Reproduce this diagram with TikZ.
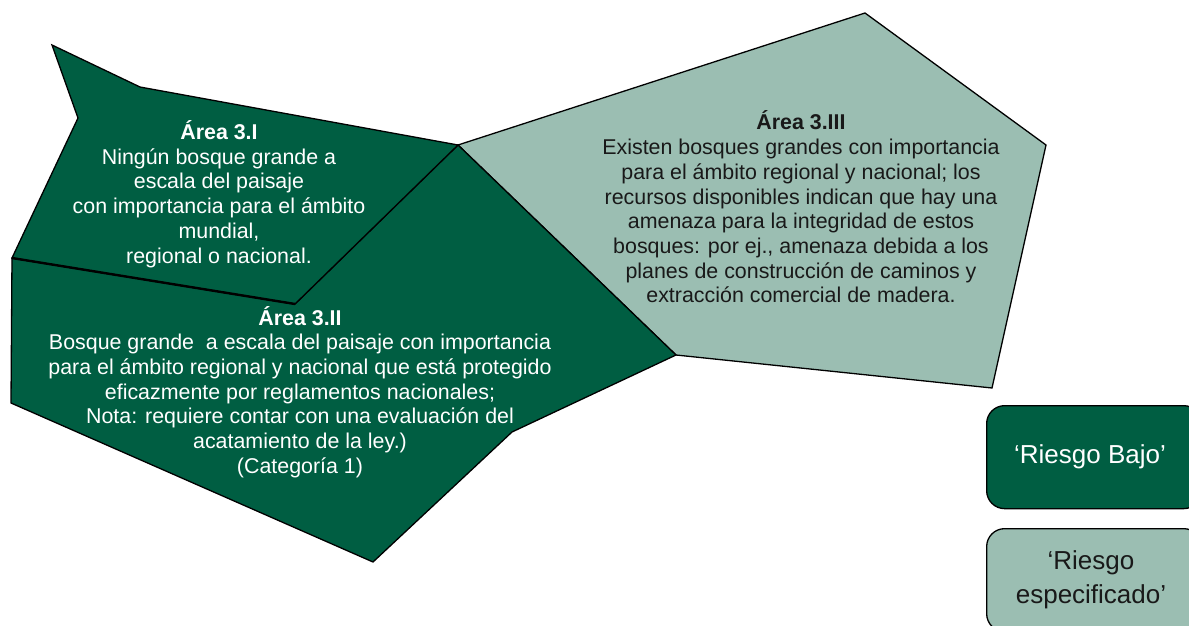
\documentclass[tikz,border=0pt]{standalone}
\usepackage{fontspec}
\setmainfont{Liberation Sans}
\definecolor{dkgreen}{RGB}{0,94,66}
\definecolor{ltgreen}{RGB}{155,190,178}
\tikzset{
  area/.style={draw=black, line width=1.3pt, line join=miter},
  txt/.style={align=center, inner sep=0pt, font=\fontsize{21.4}{24.7}\selectfont},
  legtxt/.style={align=center, inner sep=0pt, font=\fontsize{26}{34}\selectfont},
  legbox/.style={draw=black, line width=1.3pt, rounded corners=18pt, minimum width=215pt, minimum height=103pt, inner sep=0pt}
}
\begin{document}
\begin{tikzpicture}[x=1pt,y=-1pt]
\useasboundingbox (0,0) rectangle (1189,626);
\clip (0,0) rectangle (1189,626);
\fill[white] (0,0) rectangle (1189,626);
% Area 3.III
\filldraw[area, fill=ltgreen] (458,145) -- (865,13) -- (1046,145) -- (992,388) -- (676,355) -- cycle;
% Area 3.II
\filldraw[area, fill=dkgreen] (12,258) -- (295,304) -- (458,145) -- (676,355) -- (512,432) -- (373,562) -- (11,403) -- cycle;
% Area 3.I
\filldraw[area, fill=dkgreen] (52,45) -- (140,87) -- (458,145) -- (295,304) -- (12,258) -- (78,118) -- cycle;
\draw[line width=2.4pt] (12,258) -- (295,304);
% texts
\node[txt, text=white] (t1) at (219,194) {\textbf{Área 3.I}\\Ningún bosque grande a\\escala del paisaje\\con importancia para el ámbito\\mundial,\\regional o nacional.};
\node[txt, text=white] (t2) at (300,392) {\textbf{Área 3.II}\\Bosque grande \ a escala del paisaje con importancia\\para el ámbito regional y nacional que está protegido\\eficazmente por reglamentos nacionales;\\Nota: requiere contar con una evaluación del\\acatamiento de la ley.)\\(Categoría 1)};
\node[txt, text=black!90] (t3) at (801,207) {\textbf{Área 3.III}\\Existen bosques grandes con importancia\\para el ámbito regional y nacional; los\\recursos disponibles indican que hay una\\amenaza para la integridad de estos\\bosques: por ej., amenaza debida a los\\planes de construcción de caminos y\\extracción comercial de madera.};
% legend
\node[legbox, fill=dkgreen, anchor=north west] (bajo) at (986,405) {};
\node[legtxt, text=white] (bajotxt) at (1090,457) {‘Riesgo Bajo’};
\node[legbox, fill=ltgreen, anchor=north west] (espec) at (986,528) {};
\node[legtxt, text=black!90] (espectxt) at (1091,580) {‘Riesgo\\especificado’};
\end{tikzpicture}
\end{document}
